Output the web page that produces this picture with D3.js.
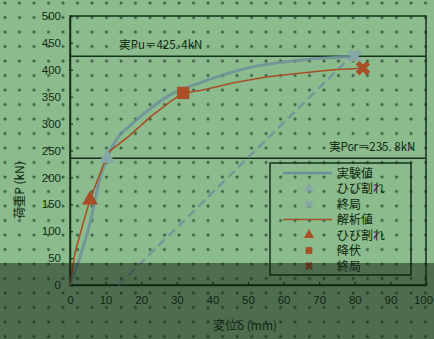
<!DOCTYPE html>
<html>
<head>
<meta charset="utf-8">
<script src="https://cdn.jsdelivr.net/npm/d3@7"></script>
<style>
  html, body { margin: 0; padding: 0; background: #8cbb8e; }
  svg { display: block; }
  text { font-family: "Liberation Sans", "Noto Sans CJK JP", sans-serif; fill: #0f2a10; }
  .jp { font-family: "Noto Sans CJK JP", sans-serif; }
</style>
</head>
<body>
<svg id="chart" width="434" height="339"></svg>
<script>
// 実験値 (experimental) load-displacement curve: [mm, kN]
const expDisp = [0, 2.8, 5.6, 8.5, 10.4, 13, 17, 22, 28, 37, 51, 65, 80];
const expLoad = [0, 52, 115, 200, 236, 270, 297, 325, 353, 377, 405, 418, 425];
const expCrack = [10.4, 236];
const expUltimate = [80, 425.4];
// dashed line of the experiment
const expDashDisp = [13.6, 79];
const expDashLoad = [0, 425];

// 解析値 (analysis) curve
const anaDisp = [0, 1.4, 3.7, 5.6, 9, 11, 17, 22.5, 28, 31.8, 37, 46, 55.5, 65, 74, 82.3];
const anaLoad = [0, 60, 115, 158, 217, 248, 279, 312, 340, 357, 362, 376, 387, 394, 400, 403];
const anaCrack = [5.6, 158];
const anaYield = [31.8, 357];
const anaUltimate = [82.3, 403];

// reference levels
const refLevels = [425.4, 235.8];
const refLabels = ['実Pu＝425. 4kN', '実Pcr＝235. 8kN'];

const xTicks = [0, 10, 20, 30, 40, 50, 60, 70, 80, 90, 100];
const yTicks = [0, 50, 100, 150, 200, 250, 300, 350, 400, 450, 500];

const legendLabels = ['実験値', 'ひび割れ', '終局', '解析値', 'ひび割れ', '降伏', '終局'];

const colExp = '#6e8f9a';
const colExpMarker = '#86a8a6';
const colAna = '#a84f26';
const colAxis = '#12301a';

const svg = d3.select('#chart');
const W = 434, H = 339;
const m = { left: 70, top: 16, right: 8, bottom: 54 };

const x = d3.scaleLinear().domain([0, 100]).range([m.left, W - m.right]);
const y = d3.scaleLinear().domain([0, 500]).range([H - m.bottom, m.top]);

//фон с точками
const defs = svg.append('defs');
const pat = defs.append('pattern')
  .attr('id', 'dots')
  .attr('patternUnits', 'userSpaceOnUse')
  .attr('width', 14.5)
  .attr('height', 14.5);
pat.append('rect').attr('width', 14.5).attr('height', 14.5).attr('fill', '#8cbb8e');
pat.append('circle').attr('cx', 5).attr('cy', 3).attr('r', 1.5).attr('fill', '#3a5c43');

svg.append('rect').attr('width', W).attr('height', H).attr('fill', 'url(#dots)');

// plot frame
svg.append('rect')
  .attr('x', x(0)).attr('y', y(500))
  .attr('width', x(100) - x(0)).attr('height', y(0) - y(500))
  .attr('fill', 'none').attr('stroke', colAxis).attr('stroke-width', 1.5);

// axes
const yAxis = svg.append('g')
  .attr('transform', `translate(${x(0)},0)`)
  .call(d3.axisLeft(y).tickValues(yTicks).tickSize(-3).tickPadding(9));
const xAxis = svg.append('g')
  .attr('transform', `translate(0,${y(0)})`)
  .call(d3.axisBottom(x).tickValues(xTicks).tickSize(-3).tickPadding(11));
[xAxis, yAxis].forEach(a => {
  a.select('.domain').attr('stroke', colAxis).attr('stroke-width', 1.5);
  a.selectAll('.tick line').attr('stroke', colAxis).attr('stroke-width', 1.2);
  a.selectAll('.tick text').attr('fill', '#0f2a10').style('font-size', '11.5px');
});
// последняя метка упирается в край окна
xAxis.selectAll('.tick text').filter(d => d === 100).attr('dx', -3);

// reference level lines + labels
svg.selectAll('line.ref')
  .data(refLevels)
  .enter()
  .append('line')
  .classed('ref', true)
  .attr('x1', x(0)).attr('x2', x(100))
  .attr('y1', d => y(d)).attr('y2', d => y(d))
  .attr('stroke', colAxis).attr('stroke-width', 1.5);

svg.append('text').attr('class', 'jp')
  .attr('x', x(25.5)).attr('y', y(425.4) - 7)
  .attr('text-anchor', 'middle').style('font-size', '11.5px')
  .text(refLabels[0]);
svg.append('text').attr('class', 'jp')
  .attr('x', x(97)).attr('y', y(235.8) - 7)
  .attr('text-anchor', 'end').style('font-size', '11.5px')
  .text(refLabels[1]);

const line = d3.line().x(d => x(d[0])).y(d => y(d[1]));

// experimental dashed line
svg.append('path')
  .attr('d', line(d3.zip(expDashDisp, expDashLoad)))
  .attr('fill', 'none').attr('stroke', colExp).attr('stroke-width', 2.5)
  .attr('stroke-opacity', 0.8).attr('stroke-dasharray', '9,5');

// experimental curve
svg.append('path')
  .attr('d', d3.line().curve(d3.curveMonotoneX).x(d => x(d[0])).y(d => y(d[1]))(d3.zip(expDisp, expLoad)))
  .attr('fill', 'none').attr('stroke', colExp).attr('stroke-width', 3)
  .attr('stroke-opacity', 0.85);

// analysis curve
svg.append('path')
  .attr('d', line(d3.zip(anaDisp, anaLoad)))
  .attr('fill', 'none').attr('stroke', colAna).attr('stroke-width', 1.6);

const tri = d3.symbol().type(d3.symbolTriangle);
const sq = d3.symbol().type(d3.symbolSquare);
const cross = d3.symbol().type(d3.symbolCross);

function marker(pt, gen, size, color, rot) {
  svg.append('path')
    .attr('d', gen.size(size)())
    .attr('transform', `translate(${x(pt[0])},${y(pt[1])}) rotate(${rot || 0})`)
    .attr('fill', color);
}
marker(expCrack, tri, 110, colExpMarker);
marker(expUltimate, cross, 130, colExpMarker, 45);
marker(anaCrack, tri, 110, colAna);
marker(anaYield, sq, 150, colAna);
marker(anaUltimate, cross, 130, colAna, 45);

// legend
const lg = svg.append('g').attr('transform', 'translate(270,163)');
lg.append('rect').attr('width', 141).attr('height', 112)
  .attr('fill', 'none').attr('stroke', colAxis).attr('stroke-width', 1.5);
const rowY = i => 10 + i * 15.5;
const lgItems = lg.selectAll('g.item').data(legendLabels).enter()
  .append('g').classed('item', true)
  .attr('transform', (d, i) => `translate(0,${rowY(i)})`);
lgItems.append('text').attr('class', 'jp')
  .attr('x', 67).attr('y', 4.5).style('font-size', '12px')
  .text(d => d);
lg.append('line').attr('x1', 13).attr('x2', 62).attr('y1', rowY(0)).attr('y2', rowY(0))
  .attr('stroke', colExp).attr('stroke-width', 2.5);
lg.append('line').attr('x1', 13).attr('x2', 62).attr('y1', rowY(3)).attr('y2', rowY(3))
  .attr('stroke', colAna).attr('stroke-width', 1.6);
const lgMarkers = [
  [1, tri, colExpMarker, 0], [2, cross, colExpMarker, 45],
  [4, tri, colAna, 0], [5, sq, colAna, 0], [6, cross, colAna, 45]
];
lgMarkers.forEach(([i, gen, c, r]) => {
  lg.append('path').attr('d', gen.size(45)())
    .attr('transform', `translate(39,${rowY(i)}) rotate(${r})`)
    .attr('fill', c);
});

// axis titles
svg.append('text').attr('class', 'jp')
  .attr('x', 245).attr('y', 330).attr('text-anchor', 'middle')
  .style('font-size', '12px').text('変位δ (mm)');
svg.append('text').attr('class', 'jp')
  .attr('transform', 'translate(24,190) rotate(-90)').attr('text-anchor', 'middle')
  .style('font-size', '12px').text('荷重P (kN)');

// darker band over the bottom of the picture
svg.append('rect')
  .attr('x', 0).attr('y', 263).attr('width', W).attr('height', H - 263)
  .attr('fill', '#0f1f10').attr('opacity', 0.5);
</script>
</body>
</html>
